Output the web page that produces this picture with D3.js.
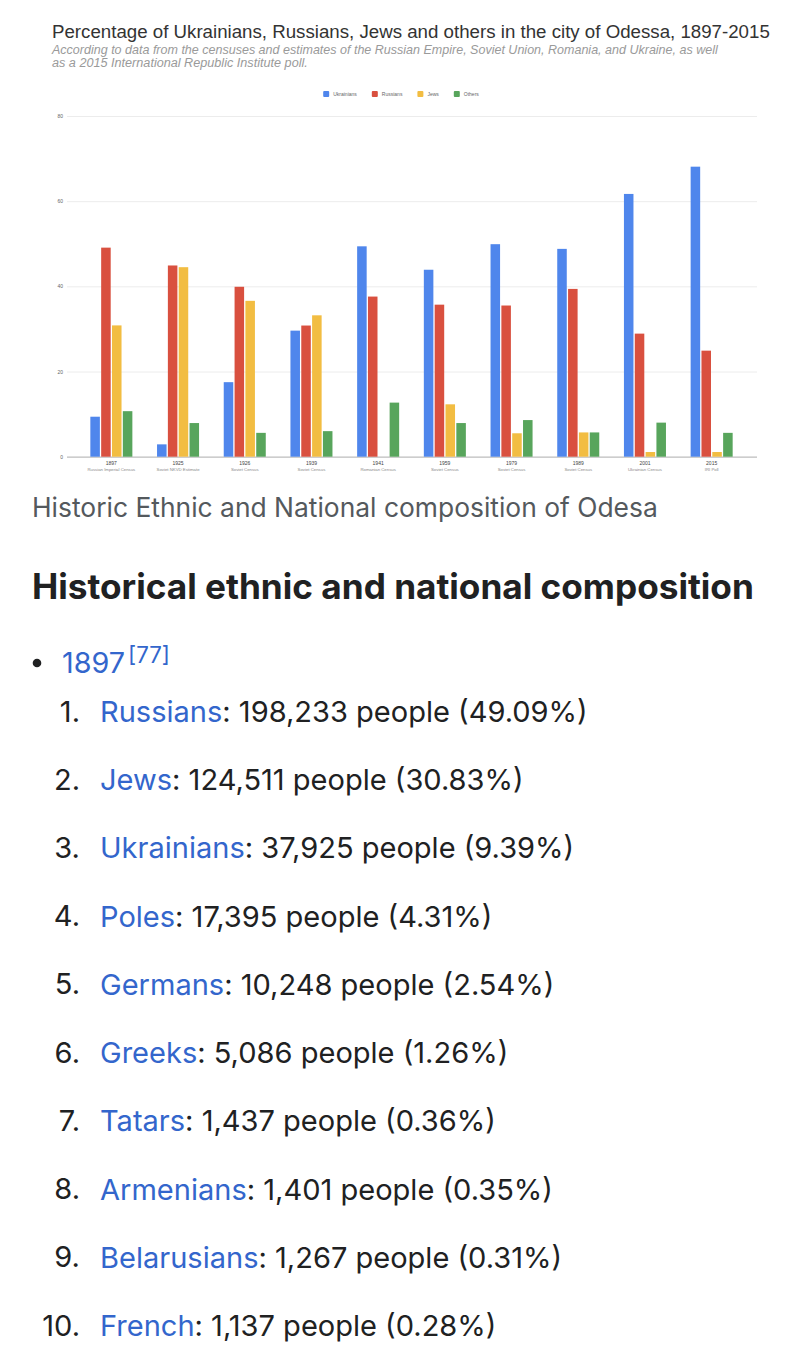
<!DOCTYPE html>
<html>
<head>
<meta charset="utf-8">
<script src="https://cdn.jsdelivr.net/npm/d3@7"></script>
<style>
  html, body { margin: 0; padding: 0; background: #fff; }
  svg { display: block; }
</style>
</head>
<body>
<svg id="page" width="811" height="1354"></svg>
<script>
// ---------- DATA ----------
const years = ["1897","1925","1926","1939","1941","1959","1979","1989","2001","2015"];
const sources = ["Russian Imperial Census","Soviet NKVD Estimate","Soviet Census","Soviet Census","Romanian Census","Soviet Census","Soviet Census","Soviet Census","Ukrainian Census","IRI Poll"];
const seriesNames = ["Ukrainians","Russians","Jews","Others"];
const ukrainians = [9.39, 2.9, 17.5, 29.6, 49.4, 43.9, 49.9, 48.8, 61.7, 68.1];
const russians   = [49.09, 44.9, 39.9, 30.8, 37.6, 35.7, 35.5, 39.4, 28.9, 24.9];
const jews       = [30.83, 44.5, 36.6, 33.2, 0, 12.3, 5.5, 5.7, 1.1, 1.1];
const others     = [10.69, 7.9, 5.6, 6.0, 12.7, 7.9, 8.6, 5.7, 8.0, 5.6];
const yTicks = [0, 20, 40, 60, 80];

const groups1897 = ["Russians","Jews","Ukrainians","Poles","Germans","Greeks","Tatars","Armenians","Belarusians","French"];
const people1897 = [198233,124511,37925,17395,10248,5086,1437,1401,1267,1137];
const shares1897 = [49.09,30.83,9.39,4.31,2.54,1.26,0.36,0.35,0.31,0.28];

const colors = ["#4f86ec","#d9503f","#f2bd42","#58a55c"];
const seriesValues = [ukrainians, russians, jews, others];

// ---------- helpers ----------
const svg = d3.select("#page");
function fit(sel, target) {
  const w = sel.node().getComputedTextLength();
  const fs = parseFloat(sel.attr("font-size"));
  sel.attr("font-size", fs * target / w);
  return sel;
}

// ---------- CHART ----------
const chartFont = "'Liberation Sans', Arial, sans-serif";
const gridLeft = 67, gridRight = 757;
const y = d3.scaleLinear().domain([0, 80]).range([456.7, 116]);
const x0 = d3.scaleBand().domain(years).range([78, 745]).paddingInner(0.37).paddingOuter(0.185);
const x1 = d3.scaleBand().domain(seriesNames).range([0, x0.bandwidth()]).paddingInner(0.12);
const color = d3.scaleOrdinal().domain(seriesNames).range(colors);

// title
fit(svg.append("text").attr("x", 52).attr("y", 31).attr("dominant-baseline", "central")
  .attr("font-family", chartFont).attr("font-size", 16).attr("fill", "#333")
  .text("Percentage of Ukrainians, Russians, Jews and others in the city of Odessa, 1897-2015"), 718);
fit(svg.append("text").attr("x", 52).attr("y", 50).attr("dominant-baseline", "central")
  .attr("font-family", chartFont).attr("font-size", 10).attr("font-style", "italic").attr("fill", "#9a9a9a")
  .text("According to data from the censuses and estimates of the Russian Empire, Soviet Union, Romania, and Ukraine, as well"), 666);
fit(svg.append("text").attr("x", 52).attr("y", 63).attr("dominant-baseline", "central")
  .attr("font-family", chartFont).attr("font-size", 10).attr("font-style", "italic").attr("fill", "#9a9a9a")
  .text("as a 2015 International Republic Institute poll."), 256);

// gridlines + y axis
const yAxis = d3.axisLeft(y).tickValues(yTicks).tickSize(-(gridRight - gridLeft)).tickPadding(4);
const gy = svg.append("g").attr("transform", `translate(${gridLeft},0)`).call(yAxis);
gy.select(".domain").remove();
gy.selectAll(".tick line").attr("stroke", d => d === 0 ? "#bdbdbd" : "#ececec").attr("stroke-width", d => d === 0 ? 1.2 : 1);
gy.selectAll(".tick text").attr("font-family", chartFont).attr("font-size", 5).attr("fill", "#666");

// legend
const legend = svg.append("g");
let lx = 0;
seriesNames.forEach((s, i) => {
  const g = legend.append("g").attr("transform", `translate(${lx},0)`);
  g.append("rect").attr("x", 0).attr("y", 91).attr("width", 6).attr("height", 6).attr("rx", 1).attr("fill", color(s));
  const t = g.append("text").attr("x", 10).attr("y", 94.3).attr("dominant-baseline", "central")
    .attr("font-family", chartFont).attr("font-size", 5).attr("fill", "#666").text(s);
  lx += 10 + t.node().getComputedTextLength() + 15;
});
lx -= 15;
legend.attr("transform", `translate(${401 - lx / 2},0)`);

// bars
const rows = years.map((yr, i) => ({ year: yr, values: seriesNames.map((s, k) => ({ key: s, value: seriesValues[k][i] })) }));
const gBars = svg.append("g");
gBars.selectAll("g").data(rows).join("g")
  .attr("transform", d => `translate(${x0(d.year)},0)`)
  .selectAll("rect").data(d => d.values.filter(v => v.value > 0)).join("rect")
  .attr("x", d => x1(d.key))
  .attr("y", d => y(d.value))
  .attr("width", x1.bandwidth())
  .attr("height", d => y(0) - y(d.value))
  .attr("fill", d => color(d.key));

// x labels
const gx = svg.append("g");
years.forEach((yr, i) => {
  const cx = x0(yr) + x0.bandwidth() / 2;
  gx.append("text").attr("x", cx).attr("y", 462.7).attr("text-anchor", "middle").attr("dominant-baseline", "central")
    .attr("font-family", chartFont).attr("font-size", 5).attr("fill", "#444").text(yr);
  gx.append("text").attr("x", cx).attr("y", 469).attr("text-anchor", "middle").attr("dominant-baseline", "central")
    .attr("font-family", chartFont).attr("font-size", 4.3).attr("fill", "#888").text(sources[i]);
});

// ---------- ARTICLE TEXT ----------
const bodyFont = "Inter, 'Noto Sans', sans-serif";
fit(svg.append("text").attr("x", 32).attr("y", 507).attr("dominant-baseline", "central")
  .attr("font-family", bodyFont).attr("font-size", 22).attr("fill", "#54595d")
  .text("Historic Ethnic and National composition of Odesa"), 626);

fit(svg.append("text").attr("x", 32).attr("y", 586).attr("dominant-baseline", "central")
  .attr("font-family", bodyFont).attr("font-size", 30).attr("font-weight", "bold").attr("fill", "#202122")
  .text("Historical ethnic and national composition"), 722);

svg.append("circle").attr("cx", 37).attr("cy", 663).attr("r", 4.3).attr("fill", "#202122");
const yr = fit(svg.append("text").attr("x", 62).attr("y", 662).attr("dominant-baseline", "central")
  .attr("font-family", bodyFont).attr("font-size", 24).attr("fill", "#3366cc").text("1897"), 63);
fit(svg.append("text").attr("x", 128).attr("y", 654).attr("dominant-baseline", "central")
  .attr("font-family", bodyFont).attr("font-size", 17).attr("fill", "#3366cc").text("[77]"), 42);

const fmt = d3.format(",");
const itemY = d3.scaleLinear().domain([0, 9]).range([711, 1325]);
// compute font size from first item
const probe = svg.append("text").attr("font-family", bodyFont).attr("font-size", 26)
  .text(`${groups1897[0]}: ${fmt(people1897[0])} people (${shares1897[0].toFixed(2)}%)`);
const itemFs = 26 * 488 / probe.node().getComputedTextLength();
probe.remove();

groups1897.forEach((g, i) => {
  const cy = itemY(i);
  svg.append("text").attr("x", 80).attr("y", cy).attr("text-anchor", "end").attr("dominant-baseline", "central")
    .attr("font-family", bodyFont).attr("font-size", itemFs).attr("fill", "#202122").text(`${i + 1}.`);
  const t = svg.append("text").attr("x", 100).attr("y", cy).attr("dominant-baseline", "central")
    .attr("font-family", bodyFont).attr("font-size", itemFs);
  t.append("tspan").attr("fill", "#3366cc").text(g);
  t.append("tspan").attr("fill", "#202122").text(`: ${fmt(people1897[i])} people (${shares1897[i].toFixed(2)}%)`);
});
</script>
</body>
</html>
